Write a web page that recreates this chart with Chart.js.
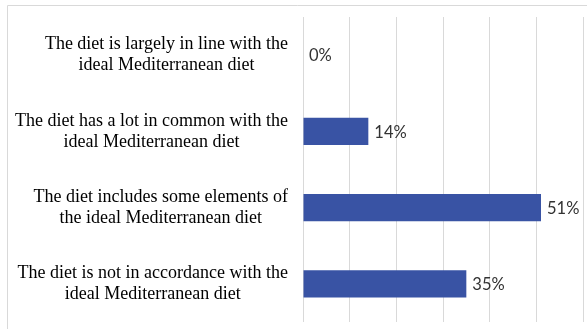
<!DOCTYPE html>
<html>
<head>
<meta charset="utf-8">
<script src="https://cdn.jsdelivr.net/npm/chart.js@4"></script>
<style>
html,body{margin:0;padding:0;background:#fff;}
#wrap{width:587px;height:329px;}
</style>
</head>
<body>
<div id="wrap"><canvas id="dietChart"></canvas></div>
<script>
// data
const categories=[
    ["The diet is largely in line with the","ideal Mediterranean diet"],
    ["The diet has a lot in common with the","ideal Mediterranean diet"],
    ["The diet includes some elements of","the ideal Mediterranean diet"],
    ["The diet is not in accordance with the","ideal Mediterranean diet"]
];
const percents=[0,14,51,35];
const axisMin=0;
const axisMax=60;
const axisStep=10;

const labelFont='18px "Liberation Serif", "Times New Roman", serif';
const valueFont='16.5px Lato, "Noto Sans", sans-serif';

// thin frame round the figure, like the pasted Excel chart
const framePlugin={
    id:"frame",
    beforeDraw:function(chart){
        let ctx=chart.ctx;
        ctx.save();
        ctx.strokeStyle="#d9d9d9";
        ctx.lineWidth=1;
        ctx.beginPath();
        ctx.moveTo(7.5,chart.height);
        ctx.lineTo(7.5,5.5);
        ctx.lineTo(chart.width,5.5);
        ctx.stroke();
        ctx.restore();
    }
};

// category names, lines centred on each other, longest line ends at the same x
const catLabelPlugin={
    id:"catLabels",
    afterDraw:function(chart){
        let ctx=chart.ctx;
        let yScale=chart.scales.y;
        let rightEdge=chart.chartArea.left-15;
        let lineH=21;
        ctx.save();
        ctx.font=labelFont;
        ctx.fillStyle="#000";
        ctx.textAlign="center";
        ctx.textBaseline="middle";
        categories.forEach((lines,i)=>{
            let yc=yScale.getPixelForTick(i);
            let w=Math.max(...lines.map(l=>ctx.measureText(l).width));
            let cx=rightEdge-w/2;
            let y0=yc-(lines.length-1)*lineH/2;
            lines.forEach((l,j)=>{
                ctx.fillText(l,cx,y0+j*lineH);
            });
        });
        ctx.restore();
    }
};

// value labels at the end of each bar
const valueLabelPlugin={
    id:"valueLabels",
    afterDatasetsDraw:function(chart){
        let ctx=chart.ctx;
        let meta=chart.getDatasetMeta(0);
        ctx.save();
        ctx.font=valueFont;
        ctx.fillStyle="#333";
        ctx.textAlign="left";
        ctx.textBaseline="middle";
        meta.data.forEach((bar,i)=>{
            ctx.fillText(percents[i]+"%",bar.x+6,bar.y+1);
        });
        ctx.restore();
    }
};

const ctx=document.getElementById("dietChart").getContext("2d");
const dietChart=new Chart(ctx,{
    type:"bar",
    data:{
        labels:categories,
        datasets:[{
            data:percents,
            backgroundColor:"#3953a4",
            borderWidth:0,
            categoryPercentage:1,
            barPercentage:0.355
        }]
    },
    options:{
        indexAxis:"y",
        responsive:true,
        maintainAspectRatio:false,
        animation:false,
        layout:{
            padding:{top:17,bottom:7,right:4,left:0}
        },
        plugins:{
            legend:{display:false},
            tooltip:{enabled:false}
        },
        scales:{
            x:{
                min:axisMin,
                max:axisMax,
                ticks:{display:false,stepSize:axisStep},
                grid:{color:"#d9d9d9",lineWidth:1,drawTicks:false},
                border:{display:false}
            },
            y:{
                ticks:{display:false},
                grid:{display:false},
                border:{display:false},
                afterFit:function(scale){
                    scale.width=303;
                }
            }
        }
    },
    plugins:[framePlugin,catLabelPlugin,valueLabelPlugin]
});
</script>
</body>
</html>
